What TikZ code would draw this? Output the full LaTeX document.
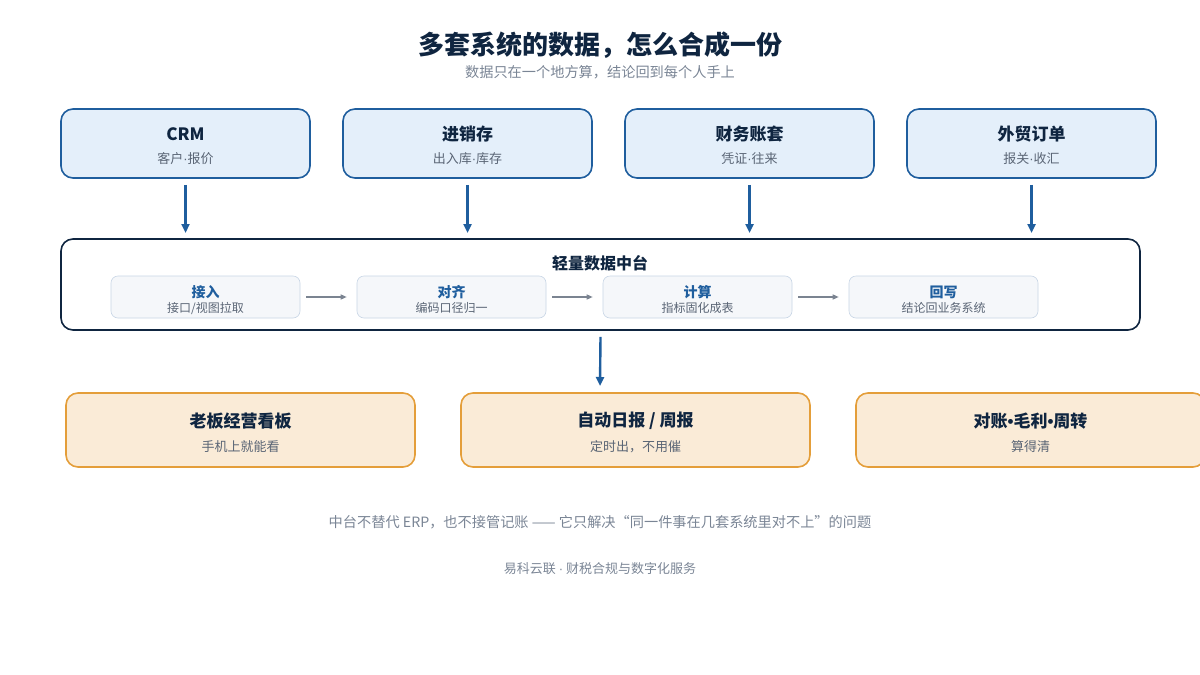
\documentclass[tikz,border=0pt]{standalone}
\usepackage{fontspec}
\setmainfont{Noto Sans CJK SC}
\newfontfamily\lat{Liberation Sans}
\newcommand{\md}{{\lat ·}}
\newcommand{\bu}{{\lat •}}
\usetikzlibrary{arrows.meta}
\definecolor{navy}{HTML}{0F2540}
\definecolor{blu}{HTML}{1F5E9E}
\definecolor{bfill}{HTML}{E4EFFA}
\definecolor{ofill}{HTML}{FAEBD7}
\definecolor{ostroke}{HTML}{E49E3A}
\definecolor{gfill}{HTML}{F5F7FA}
\definecolor{gstroke}{HTML}{C9D6E6}
\definecolor{gtext}{HTML}{5A6575}
\definecolor{ftext}{HTML}{7A8595}
\tikzset{
 src/.style={draw=blu,fill=bfill,line width=1.6pt,rounded corners=12pt,minimum width=249pt,minimum height=69pt},
 outbox/.style={draw=ostroke,fill=ofill,line width=1.6pt,rounded corners=12pt,minimum width=349pt,minimum height=74pt},
 stp/.style={draw=gstroke,fill=gfill,line width=0.6pt,rounded corners=7pt,minimum width=189pt,minimum height=42pt},
 big/.style={->,>={Triangle[length=9pt,width=8pt]},draw=blu,line width=2.4pt},
 sml/.style={->,>={Triangle[length=6pt,width=5pt]},draw=gtext!80,line width=1.3pt},
 tt/.style={font=\fontsize{17}{20}\selectfont\bfseries,text=navy},
 st/.style={font=\fontsize{13}{15}\selectfont,text=gtext},
}
\begin{document}
\begin{tikzpicture}[x=1pt,y=-1pt]
\useasboundingbox (0,0) rectangle (1200,675);
\node[font=\fontsize{26}{30}\selectfont\bfseries,text=navy] (title) at (600,45) {多套系统的数据，怎么合成一份};
\node[font=\fontsize{14.2}{16}\selectfont,text=ftext] (sub) at (600,72) {数据只在一个地方算，结论回到每个人手上};
\foreach \n/\x/\a/\b in {s1/185.5/CRM/客户\md 报价, s2/467.5/进销存/出入库\md 库存, s3/749.5/财务账套/凭证\md 往来, s4/1031.5/外贸订单/报关\md 收汇}{
 \node[src] (\n) at (\x,143.5) {};
 \node[tt] (\n t) at (\x,134) {\a};
 \node[st] (\n s) at (\x,159) {\b};
 \coordinate (\n e) at (\x,233);
 \draw[big] (\n.south)++(0,6) -- (\n e);
}
\node[draw=navy,fill=white,line width=1.6pt,rounded corners=12pt,minimum width=1079pt,minimum height=91pt] (hub) at (600.5,284.5) {};
\node[font=\fontsize{16}{19}\selectfont\bfseries,text=navy] (hubt) at (600,263) {轻量数据中台};
\foreach \n/\x/\a/\b in {p1/205.5/接入/{接口/视图拉取}, p2/451.5/对齐/编码口径归一, p3/697.5/计算/指标固化成表, p4/943.5/回写/结论回业务系统}{
 \node[stp] (\n) at (\x,297) {};
 \node[font=\fontsize{14}{16}\selectfont\bfseries,text=blu] (\n t) at (\x,292) {\a};
 \node[font=\fontsize{12}{14}\selectfont,text=gtext] (\n s) at (\x,308) {\b};
}
\draw[sml] (p1.east)++(6,0) -- ([xshift=-10pt]p2.west);
\draw[sml] (p2.east)++(6,0) -- ([xshift=-10pt]p3.west);
\draw[sml] (p3.east)++(6,0) -- ([xshift=-10pt]p4.west);
\coordinate (dn) at (600,386);
\draw[big] (hub.south)++(0,6) -- (dn);
\foreach \n/\x/\a/\b in {o1/240.5/老板经营看板/手机上就能看, o2/635.5/{自动日报 / 周报}/定时出，不用催, o3/1030.5/对账\bu 毛利\bu 周转/算得清}{
 \node[outbox] (\n) at (\x,430) {};
 \node[tt] (\n t) at (\x,421) {\a};
 \node[st] (\n s) at (\x,447) {\b};
}
\node[font=\fontsize{14.2}{16}\selectfont,text=ftext] (note) at (600,522) {中台不替代 ERP，也不接管记账 —— 它只解决“同一件事在几套系统里对不上”的问题};
\node[font=\fontsize{13}{15}\selectfont,text=ftext] (foot) at (600,569) {易科云联 {\lat ·} 财税合规与数字化服务};
\end{tikzpicture}
\end{document}
